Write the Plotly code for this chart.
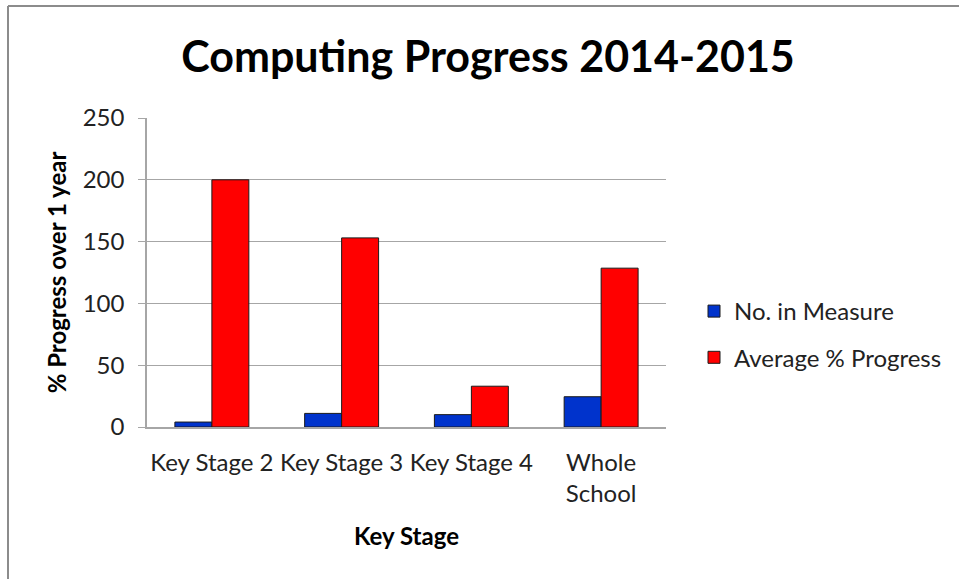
import plotly.graph_objects as go

categories = ["Key Stage 2", "Key Stage 3", "Key Stage 4", "Whole<br>School"]
no_in_measure = [4, 11, 10, 24.5]
avg_progress = [200, 153, 33, 128.5]
y_ticks = [0, 50, 100, 150, 200, 250]

FONT = "Lato"
FS = 24
L, R, T, B = 147, 959 - 666, 118, 579 - 427
PW, PH = 959 - L - R, 579 - T - B

fig = go.Figure()
fig.add_trace(go.Bar(
    x=categories, y=no_in_measure, name="No. in Measure",
    marker=dict(color="#0033CC", line=dict(color="#1a1a1a", width=1)),
    legendgroup="a",
))
fig.add_trace(go.Bar(
    x=categories, y=avg_progress, name="Average % Progress",
    marker=dict(color="#FF0000", line=dict(color="#1a1a1a", width=1)),
    legendgroup="b",
))

def px_x(p):
    return (p - L) / PW

def px_y(p):
    return (579 - B - p) / PH

fig.update_layout(
    width=959, height=579,
    margin=dict(l=L, r=R, t=T, b=B),
    paper_bgcolor="white", plot_bgcolor="white",
    barmode="group", bargap=0.43, bargroupgap=0,
    font=dict(family=FONT, size=FS, color="#222222"),
    title=dict(text="<b>Computing Progress 2014-2015</b>", x=px_x(488), xref="paper",
               xanchor="center", y=1 - 57 / 579, yanchor="middle",
               font=dict(family=FONT, size=43, color="black")),
    xaxis=dict(
        showline=True, linecolor="#A6A6A6", linewidth=1.5,
        ticks="", tickfont=dict(size=FS, family=FONT),
        ticklabelstandoff=13,
        title=dict(text="<b>Key Stage</b>", font=dict(size=FS, family=FONT, color="black"), standoff=22),
    ),
    yaxis=dict(
        range=[0, 250], tickvals=y_ticks,
        showline=True, linecolor="#A6A6A6", linewidth=1.5,
        ticks="outside", ticklen=7, tickcolor="#A6A6A6",
        showgrid=True, gridcolor="#A6A6A6", gridwidth=1,
        zeroline=False,
        tickfont=dict(size=FS, family=FONT),
        ticklabelstandoff=9,
        title=dict(text="<b>% Progress over 1 year</b>", font=dict(size=FS, family=FONT, color="black"), standoff=9),
    ),
    legend=dict(
        x=px_x(694), y=px_y(289), xanchor="left", yanchor="top",
        font=dict(size=FS, family=FONT),
        traceorder="grouped", tracegroupgap=12,
        itemwidth=30,
    ),
    shapes=[
        dict(type="line", xref="paper", yref="paper",
             x0=px_x(8), x1=px_x(8), y0=px_y(6), y1=px_y(600),
             line=dict(color="#8C8C8C", width=2)),
        dict(type="line", xref="paper", yref="paper",
             x0=px_x(8), x1=px_x(980), y0=px_y(6), y1=px_y(6),
             line=dict(color="#8C8C8C", width=2)),
    ],
)

fig.write_html("out.html")
